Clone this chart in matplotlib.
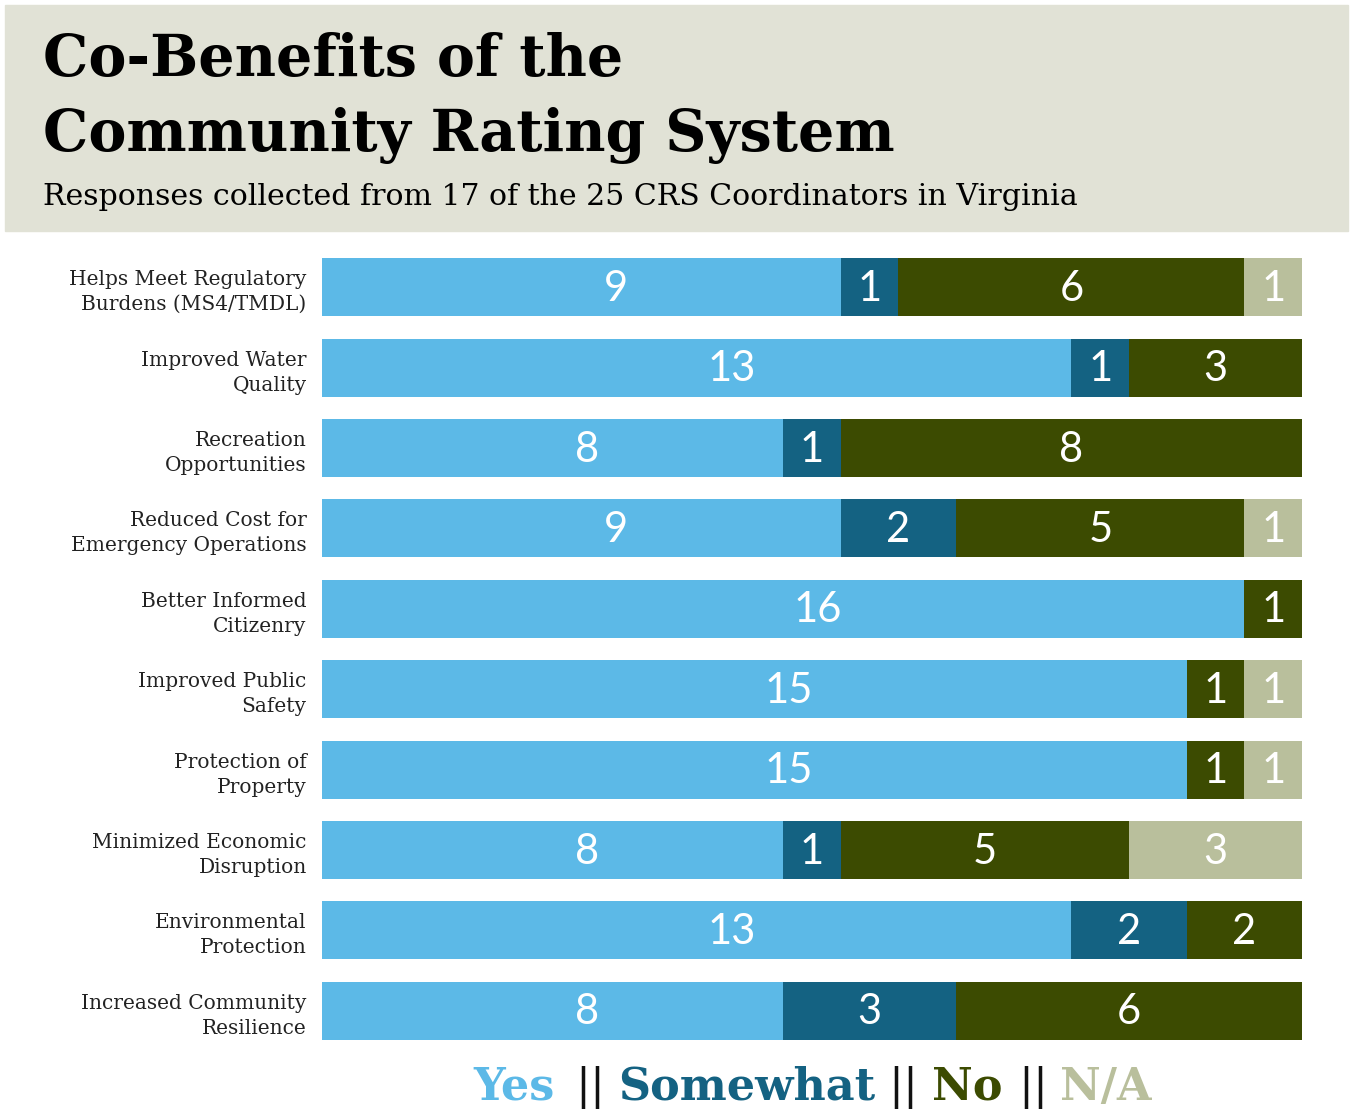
import numpy as np
import matplotlib
matplotlib.use("Agg")
import matplotlib.pyplot as plt
from matplotlib.patches import Rectangle

categories = [
    "Helps Meet Regulatory\nBurdens (MS4/TMDL)",
    "Improved Water\nQuality",
    "Recreation\nOpportunities",
    "Reduced Cost for\nEmergency Operations",
    "Better Informed\nCitizenry",
    "Improved Public\nSafety",
    "Protection of\nProperty",
    "Minimized Economic\nDisruption",
    "Environmental\nProtection",
    "Increased Community\nResilience",
]
yes = [9, 13, 8, 9, 16, 15, 15, 8, 13, 8]
somewhat = [1, 1, 1, 2, 0, 0, 0, 1, 2, 3]
no = [6, 3, 8, 5, 1, 1, 1, 5, 2, 6]
na = [1, 0, 0, 1, 0, 1, 1, 3, 0, 0]

series = [("Yes", yes, "#5cb9e7"), ("Somewhat", somewhat, "#146282"),
          ("No", no, "#3c4b01"), ("N/A", na, "#b9bf9c")]

W, H = 1352, 1109
fig = plt.figure(figsize=(W / 100, H / 100), dpi=100)

# title box
fig.patches.append(Rectangle((5 / W, 1 - 231 / H), 1343 / W, 226 / H,
                             transform=fig.transFigure, color="#e1e2d6", zorder=0))
fig.text(43 / W, 1 - 76 / H, "Co-Benefits of the", fontsize=41, fontweight="bold",
         family="DejaVu Serif", va="baseline", ha="left")
fig.text(43 / W, 1 - 151 / H, "Community Rating System", fontsize=41, fontweight="bold",
         family="DejaVu Serif", va="baseline", ha="left")
fig.text(43 / W, 1 - 205 / H, "Responses collected from 17 of the 25 CRS Coordinators in Virginia",
         fontsize=21.6, family="DejaVu Serif", va="baseline", ha="left")

ax = fig.add_axes([322 / W, 1 - 1051 / H, 980 / W, 804 / H])
y = np.arange(len(categories))
left = np.zeros(len(categories))
for name, vals, col in series:
    vals = np.array(vals)
    ax.barh(y, vals, left=left, height=0.72, color=col, edgecolor="none")
    for i, v in enumerate(vals):
        if v > 0:
            xc = left[i] + v / 2
            if name == "Yes":
                xc += 0.6
            ax.text(xc, y[i] + 0.02, str(v), color="white", fontsize=30, family="Lato",
                    ha="center", va="center")
    left += vals

ax.set_xlim(0, 17)
ax.set_ylim(len(categories) - 0.5, -0.5)
ax.set_yticks(y)
ax.set_yticklabels(categories, family="DejaVu Serif", fontsize=14.5, color="#222222",
                   linespacing=1.4)
ax.tick_params(axis="y", length=0, pad=11)
ax.set_xticks([])
for s in ax.spines.values():
    s.set_visible(False)

# legend line
parts = [("Yes", "#5cb9e7", "bold", 473), ("||", "#111111", "normal", 575),
         ("Somewhat", "#146282", "bold", 618), ("||", "#111111", "normal", 888),
         ("No", "#3c4b01", "bold", 932), ("||", "#111111", "normal", 1018),
         ("N/A", "#b9bf9c", "bold", 1060)]
for txt, col, wt, xp in parts:
    fig.text(xp / W, 1 - 1100 / H, txt, color=col, fontweight=wt, fontsize=32,
             family="DejaVu Serif", va="baseline", ha="left")

fig.savefig("out.png", dpi=100)
